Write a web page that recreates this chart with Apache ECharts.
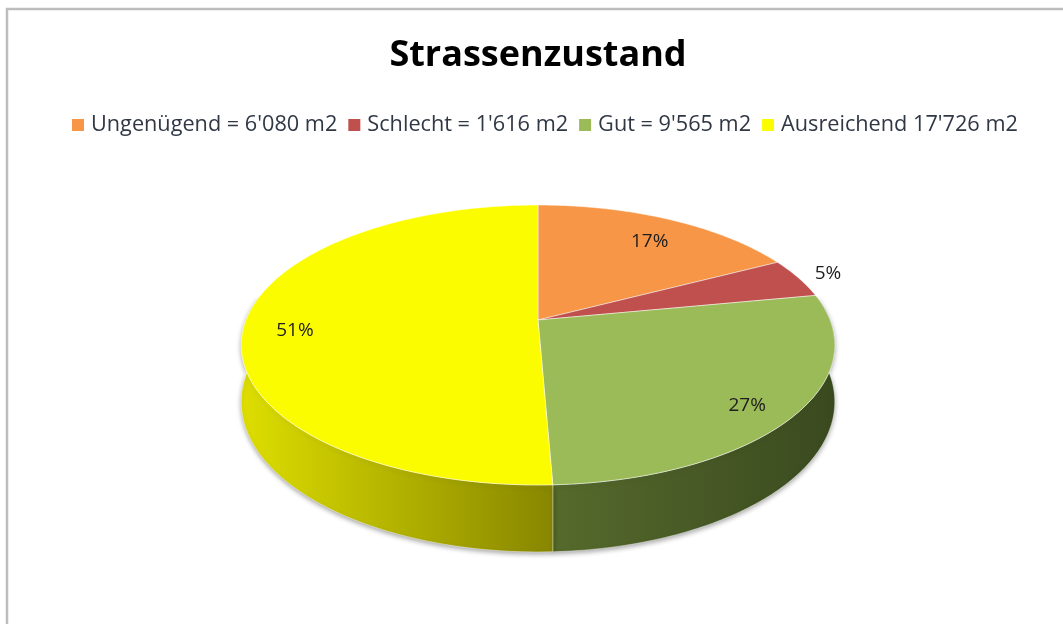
<!DOCTYPE html>
<html>
<head>
<meta charset="utf-8">
<title>Strassenzustand</title>
<script src="https://cdn.jsdelivr.net/npm/echarts@6/dist/echarts.min.js"></script>
<style>
  html, body { margin: 0; padding: 0; background: #fff; }
  #main { width: 1063px; height: 624px; }
</style>
</head>
<body>
<div id="main"></div>
<script>
// Daten
const categories = ["Ungenügend = 6'080 m2", "Schlecht = 1'616 m2", "Gut = 9'565 m2", "Ausreichend 17'726 m2"];
const areas = [6080, 1616, 9565, 17726];

// Farben (Oberseite / Seitenwand links -> rechts)
const topColors = ['#F79646', '#C0504D', '#9BBB59', '#FCFC00'];
const sideColors = [['#B86A2C', '#8A4E1E'], ['#8E3330', '#6A2422'], ['#566A2C', '#3A4A1F'], ['#DEDE00', '#878600']];

const total = areas.reduce((a, b) => a + b, 0);
const starts = [];
areas.reduce((acc, v, i) => { starts[i] = acc; return acc + v; }, 0);

// Perspektive des 3D-Kuchens
const CX = 538, CY = 320, R = 292, B = 135.5, K = 0.1786, H = 55;

function proj(deg, f, drop) {
    const t = deg * Math.PI / 180;
    const x = f * Math.sin(t), z = -f * Math.cos(t);
    const s = 1 / (1 - K * z);
    return [CX + R * x * s, CY + B * z * s + (drop || 0) * s];
}

function arc(a0, a1, f, drop) {
    const pts = [];
    const n = Math.max(2, Math.ceil(Math.abs(a1 - a0)));
    for (let i = 0; i <= n; i++) pts.push(proj(a0 + (a1 - a0) * i / n, f, drop));
    return pts;
}

function sliceRenderer(idx) {
    return function (params, api) {
        const a0 = starts[idx] / total * 360;
        const a1 = (starts[idx] + api.value(0)) / total * 360;
        const children = [];

        // Seitenwand (nur vorne sichtbar)
        const s0 = Math.max(a0, 80), s1 = Math.min(a1, 280);
        if (s1 > s0) {
            const top = arc(s0, s1, 1, 0);
            const bottom = arc(s1, s0, 1, H);
            children.push({
                type: 'polygon',
                z2: 1,
                shape: { points: top.concat(bottom) },
                style: {
                    fill: new echarts.graphic.LinearGradient(0, 0, 1, 0, [
                        { offset: 0, color: sideColors[idx][0] },
                        { offset: 1, color: sideColors[idx][1] }
                    ]),
                    stroke: 'rgba(255,255,255,0.5)',
                    lineWidth: 0.8,
                    shadowBlur: 5,
                    shadowOffsetY: 2,
                    shadowColor: 'rgba(0,0,0,0.35)'
                }
            });
        }

        // Oberseite
        children.push({
            type: 'polygon',
            z2: 10,
            shape: { points: [proj(0, 0)].concat(arc(a0, a1, 1, 0)) },
            style: {
                fill: topColors[idx],
                stroke: 'rgba(255,255,255,0.6)',
                lineWidth: 0.8
            }
        });

        // Beschriftung
        const pct = api.value(0) / total * 100;
        const mid = (a0 + a1) / 2;
        const p = pct < 8 ? proj(mid, 1.12, 0) : proj(mid, 0.83, 8);
        children.push({
            type: 'text',
            z2: 20,
            x: p[0],
            y: p[1],
            style: {
                text: Math.round(pct) + '%',
                fill: '#1E1E1E',
                font: '19px "Open Sans"',
                align: 'center',
                verticalAlign: 'middle'
            }
        });

        return { type: 'group', children: children };
    };
}

const chart = echarts.init(document.getElementById('main'));

const option = {
    backgroundColor: '#fff',
    animation: false,
    title: {
        text: 'Strassenzustand',
        left: 533,
        textAlign: 'center',
        top: 33,
        textStyle: {
            fontFamily: 'Open Sans',
            fontSize: 36,
            fontWeight: 'bold',
            color: '#000'
        }
    },
    legend: {
        data: categories,
        left: 67,
        top: 109,
        icon: 'rect',
        itemWidth: 12,
        itemHeight: 12,
        itemGap: 11,
        textStyle: {
            fontFamily: 'Open Sans',
            fontSize: 21.7,
            color: '#303846',
            padding: [0, 0, 0, 2]
        }
    },
    graphic: [{
        type: 'rect',
        shape: { x: 7, y: 9, width: 1200, height: 800 },
        style: { fill: 'none', stroke: '#BDBDBD', lineWidth: 2.5 },
        silent: true
    }],
    series: categories.map((name, i) => ({
        type: 'custom',
        name: name,
        coordinateSystem: 'none',
        itemStyle: { color: topColors[i] },
        renderItem: sliceRenderer(i),
        data: [[areas[i]]]
    }))
};

chart.setOption(option);
</script>
</body>
</html>
